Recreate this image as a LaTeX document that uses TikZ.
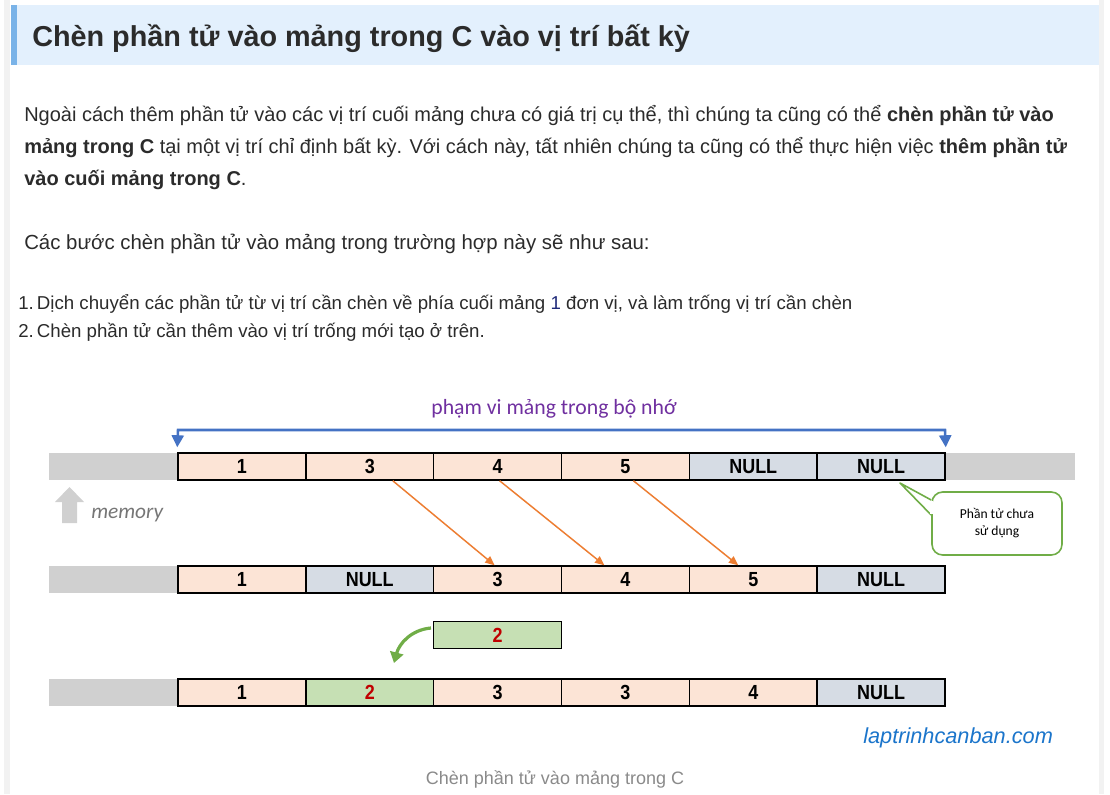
\documentclass[tikz,border=0pt]{standalone}
\usepackage{fontspec}
\setmainfont{Liberation Sans}
\newfontfamily\calib{Carlito}
\newfontfamily\cellfont[FakeStretch=0.88]{Liberation Sans}
\usetikzlibrary{arrows.meta,calc}
\definecolor{hdrbg}{HTML}{E3F0FD}
\definecolor{hdrbar}{HTML}{7AB3E8}
\definecolor{edge}{HTML}{F2F2F2}
\definecolor{txt}{HTML}{2B2B2B}
\definecolor{navy}{HTML}{1F2A7A}
\definecolor{salmon}{HTML}{FCE4D6}
\definecolor{nullc}{HTML}{D6DCE4}
\definecolor{greenc}{HTML}{C6E0B4}
\definecolor{memg}{HTML}{D0D0D0}
\definecolor{memt}{HTML}{767676}
\definecolor{purp}{HTML}{7030A0}
\definecolor{blu}{HTML}{4472C4}
\definecolor{orng}{HTML}{ED7D31}
\definecolor{grn}{HTML}{70AD47}
\definecolor{redc}{HTML}{C00000}
\definecolor{site}{HTML}{1B75CB}
\definecolor{capg}{HTML}{8A8A8A}
\tikzset{
  cellbox/.style={draw=black, line width=1.1pt, minimum width=95.875pt, minimum height=20.25pt, inner sep=0pt, font=\cellfont\bfseries\fontsize{15.3}{15.3}\selectfont},
  numcell/.style={cellbox, fill=salmon},
  nullcell/.style={cellbox, fill=nullc},
  newcell/.style={cellbox, fill=greenc, text=redc},
  txtline/.style={anchor=base west, inner sep=0pt, text=txt, font=\fontsize{15}{15}\selectfont},
  listline/.style={txtline, font=\fontsize{14}{14}\selectfont},
  shiftarrow/.style={orng, line width=1.1pt, -{Triangle[length=7pt,width=6pt]}},
  notebox/.style={draw=grn, line width=1.2pt, fill=white, rounded corners=8pt, minimum width=97.5pt, minimum height=47.25pt, align=center, font=\calib\fontsize{10.2}{12.75}\selectfont, text=black}
}
\begin{document}
\begin{tikzpicture}[x=0.75pt,y=-0.75pt]
\useasboundingbox (0,0) rectangle (1110,794);
\fill[white] (0,0) rectangle (1110,794);
% page edges
\fill[edge] (4,0) rectangle (10,794);
\fill[edge] (1099,0) rectangle (1104,794);
% header
\fill[hdrbg] (11,5) rectangle (1099,65);
\fill[hdrbar] (11,5) rectangle (17,65);
\node[txtline, font=\bfseries\fontsize{21.6}{21.6}\selectfont] (title) at (32,46) {Chèn phần tử vào mảng trong C vào vị trí bất kỳ};
% paragraph
\node[txtline] (p1) at (24,121) {Ngoài cách thêm phần tử vào các vị trí cuối mảng chưa có giá trị cụ thể, thì chúng ta cũng có thể \textbf{chèn phần tử vào}};
\node[txtline] (p2) at (24,153) {\textbf{mảng trong C} tại một vị trí chỉ định bất kỳ. Với cách này, tất nhiên chúng ta cũng có thể thực hiện việc \textbf{thêm phần tử}};
\node[txtline] (p3) at (24,185) {\textbf{vào cuối mảng trong C}.};
\node[txtline, font=\fontsize{15.3}{15.3}\selectfont] (p4) at (24,249) {Các bước chèn phần tử vào mảng trong trường hợp này sẽ như sau:};
\node[listline] (l1) at (18,309) {1.\,Dịch chuyển các phần tử từ vị trí cần chèn về phía cuối mảng {\color{navy}1} đơn vị, và làm trống vị trí cần chèn};
\node[listline] (l2) at (18,337) {2.\,Chèn phần tử cần thêm vào vị trí trống mới tạo ở trên.};
% memory strips
\fill[memg] (49,453) rectangle (1075,480);
\fill[memg] (49,566) rectangle (178,593);
\fill[memg] (49,679) rectangle (178,706);
% range label
\node[inner sep=0pt, anchor=base, text=purp, font=\calib\fontsize{16.3}{16.3}\selectfont] (range) at (554,414) {phạm vi mảng trong bộ nhớ};
% row 1
\node[numcell] (r1c1) at (241.9,466.5) {1};
\node[numcell] (r1c2) at (369.75,466.5) {3};
\node[numcell] (r1c3) at (497.6,466.5) {4};
\node[numcell] (r1c4) at (625.4,466.5) {5};
\node[nullcell] (r1c5) at (753.25,466.5) {NULL};
\node[nullcell] (r1c6) at (881.1,466.5) {NULL};
% row 2
\node[numcell] (r2c1) at (241.9,579.5) {1};
\node[nullcell] (r2c2) at (369.75,579.5) {NULL};
\node[numcell] (r2c3) at (497.6,579.5) {3};
\node[numcell] (r2c4) at (625.4,579.5) {4};
\node[numcell] (r2c5) at (753.25,579.5) {5};
\node[nullcell] (r2c6) at (881.1,579.5) {NULL};
% new element
\node[newcell] (new) at (497.6,635) {2};
% row 3
\node[numcell] (r3c1) at (241.9,692.5) {1};
\node[newcell] (r3c2) at (369.75,692.5) {2};
\node[numcell] (r3c3) at (497.6,692.5) {3};
\node[numcell] (r3c4) at (625.4,692.5) {3};
\node[numcell] (r3c5) at (753.25,692.5) {4};
\node[nullcell] (r3c6) at (881.1,692.5) {NULL};
% range bracket
\coordinate (bl) at (178,430);
\coordinate (br) at (945,430);
\draw[blu, line width=1.9pt, {Triangle[length=9pt,width=9pt]}-{Triangle[length=9pt,width=9pt]}]
  ($(r1c1.north west)+(0,-5)$) -- (bl) -- (br) -- ($(r1c6.north east)+(0,-5)$);
% memory arrow
\fill[memg] (62,523) -- (62,502) -- (55,502) -- (69.5,487) -- (84,502) -- (77,502) -- (77,523) -- cycle;
\node[anchor=base west, inner sep=0pt, text=memt, font=\calib\itshape\fontsize{16}{16}\selectfont] (mem) at (91,518) {memory};
% shift arrows
\draw[shiftarrow] ($(r1c2.south)+(23,0)$) -- ($(r2c3.north)+(-3,0)$);
\draw[shiftarrow] ($(r1c3.south)+(2,0)$) -- ($(r2c4.north)+(-21,0)$);
\draw[shiftarrow] ($(r1c4.south)+(8,0)$) -- ($(r2c5.north)+(-15,0)$);
% insert arrow
\coordinate (ins) at (394,663);
\draw[grn, line width=2.4pt, -{Triangle[length=8pt,width=10pt]}] ($(new.west)+(-2,-7)$) to[out=185,in=75] (ins);
% callout
\node[notebox] (note) at (997,523.5) {Phần tử chưa\\sử dụng};
\coordinate (tip) at (900,483);
\draw[grn, line width=1.2pt, fill=white, line join=round] ($(note.west)+(0,-23.5)$) -- (tip) -- ($(note.west)+(0,-8.5)$);
\fill[white] ($(note.west)+(-1,-22.5)$) rectangle ($(note.west)+(2,-9.5)$);
% site
\node[anchor=base west, inner sep=0pt, text=site, font=\itshape\fontsize{16.3}{16.3}\selectfont] (site) at (863,743) {laptrinhcanban.com};
% caption
\node[anchor=base, inner sep=0pt, text=capg, font=\fontsize{13.5}{13.5}\selectfont] (cap) at (555,784) {Chèn phần tử vào mảng trong C};
\end{tikzpicture}
\end{document}
